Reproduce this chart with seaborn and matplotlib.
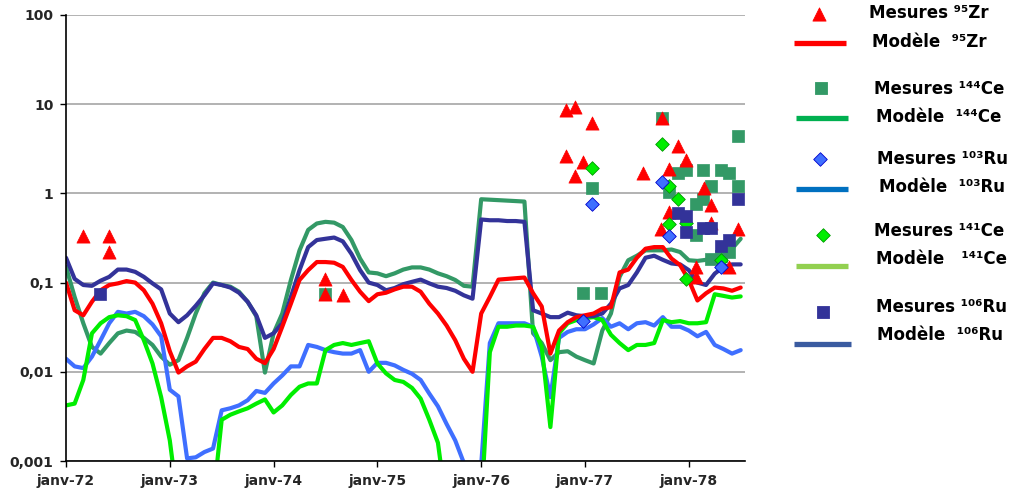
import numpy as np
import pandas as pd
import matplotlib
matplotlib.use("Agg")
import matplotlib.pyplot as plt
import seaborn as sns

sns.set_style("white")
plt.rcParams['font.family'] = ['DejaVu Sans']
plt.rcParams['font.weight'] = 'bold'

# -----------------------------------
# Données : mois depuis janv-72
# -----------------------------------

mois = np.arange(79)

modele_zr95 = [0.1, 0.049, 0.043, 0.061, 0.082, 0.094, 0.098, 0.104, 0.1, 0.082,
               0.058, 0.035, 0.017, 0.0098, 0.0115, 0.013, 0.018, 0.024, 0.024, 0.022,
               0.019, 0.018, 0.014, 0.0125, 0.018, 0.032, 0.058, 0.107, 0.138, 0.17,
               0.17, 0.167, 0.15, 0.107, 0.079, 0.062, 0.074, 0.077, 0.084, 0.09,
               0.09, 0.079, 0.058, 0.045, 0.033, 0.0226, 0.014, 0.01, 0.045, 0.069,
               0.108, 0.11, 0.112, 0.114, 0.076, 0.054, 0.016, 0.029, 0.036, 0.041,
               0.043, 0.045, 0.051, 0.053, 0.13, 0.14, 0.19, 0.24, 0.25, 0.25,
               0.186, 0.157, 0.107, 0.063, 0.076, 0.088, 0.086, 0.081, 0.088]

modele_ce144 = [0.15, 0.069, 0.035, 0.019, 0.016, 0.021, 0.027, 0.029, 0.028, 0.024,
                0.02, 0.0148, 0.012, 0.0135, 0.024, 0.045, 0.076, 0.1, 0.094, 0.09,
                0.079, 0.061, 0.042, 0.0098, 0.027, 0.045, 0.107, 0.23, 0.39, 0.46,
                0.48, 0.47, 0.42, 0.3, 0.186, 0.13, 0.127, 0.118, 0.127, 0.14,
                0.148, 0.148, 0.14, 0.127, 0.118, 0.107, 0.092, 0.09, 0.86, 0.85,
                0.84, 0.83, 0.82, 0.81, 0.027, 0.021, 0.0135, 0.0166, 0.017, 0.0148,
                0.0135, 0.0124, 0.029, 0.045, 0.116, 0.178, 0.2, 0.23, 0.23, 0.23,
                0.235, 0.22, 0.178, 0.175, 0.18, 0.195, 0.2, 0.24, 0.31]

modele_ru103 = [0.014, 0.0115, 0.011, 0.0148, 0.0226, 0.035, 0.047, 0.045, 0.047, 0.042,
                0.034, 0.025, 0.0063, 0.0053, 0.00107, 0.0011, 0.00126, 0.00138, 0.0037, 0.0039,
                0.0042, 0.0048, 0.0061, 0.0058, 0.0074, 0.0091, 0.0115, 0.0115, 0.02, 0.019,
                0.0175, 0.0166, 0.016, 0.016, 0.0175, 0.01, 0.0126, 0.0126, 0.0118, 0.0105,
                0.0095, 0.0081, 0.0057, 0.0041, 0.0026, 0.0017, 0.00095, 0.0002, 0.0009, 0.021,
                0.035, 0.035, 0.035, 0.035, 0.032, 0.0148, 0.0052, 0.024, 0.028, 0.03,
                0.03, 0.034, 0.04, 0.032, 0.035, 0.03, 0.035, 0.036, 0.033, 0.041,
                0.032, 0.032, 0.029, 0.025, 0.028, 0.02, 0.018, 0.016, 0.0175]

modele_ce141 = [0.0042, 0.0044, 0.0081, 0.027, 0.035, 0.041, 0.043, 0.042, 0.038, 0.0226,
                0.0124, 0.0052, 0.0017, 0.0003, 0.0001, 0.0001, 0.0001, 0.00035, 0.0029, 0.0033,
                0.0036, 0.0039, 0.0044, 0.0049, 0.0035, 0.0042, 0.0055, 0.0068, 0.0074, 0.0074,
                0.0175, 0.02, 0.021, 0.02, 0.021, 0.022, 0.0124, 0.0096, 0.0081, 0.0077,
                0.0066, 0.005, 0.0029, 0.0016, 0.0003, 0.0001, 0.0001, 0.0001, 0.0003, 0.0166,
                0.032, 0.032, 0.033, 0.033, 0.032, 0.019, 0.0024, 0.027, 0.035, 0.038,
                0.04, 0.041, 0.038, 0.026, 0.021, 0.0175, 0.02, 0.02, 0.021, 0.038,
                0.036, 0.037, 0.035, 0.035, 0.036, 0.074, 0.071, 0.068, 0.07]

modele_ru106 = [0.19, 0.11, 0.094, 0.092, 0.105, 0.116, 0.14, 0.14, 0.132, 0.116,
                0.098, 0.084, 0.045, 0.036, 0.043, 0.055, 0.072, 0.098, 0.094, 0.088,
                0.077, 0.061, 0.043, 0.024, 0.027, 0.035, 0.069, 0.138, 0.25, 0.3,
                0.31, 0.32, 0.29, 0.21, 0.138, 0.1, 0.094, 0.082, 0.087, 0.096,
                0.102, 0.108, 0.098, 0.09, 0.087, 0.081, 0.072, 0.066, 0.51, 0.5,
                0.5, 0.49, 0.49, 0.48, 0.049, 0.045, 0.041, 0.041, 0.046, 0.043,
                0.042, 0.042, 0.045, 0.058, 0.086, 0.094, 0.13, 0.19, 0.2, 0.18,
                0.164, 0.16, 0.138, 0.1, 0.094, 0.126, 0.15, 0.16, 0.16]

# mesures (mois, valeur)
mes_zr95_mois = [2, 5, 5, 30, 30, 32, 57.75, 58.8, 60.8, 57.75, 59.8, 58.8, 66.7,
                 68.9, 70.75, 71.7, 69.7, 73.8, 74.6, 69.7, 68.8, 74.6, 77.7, 72.8, 72.8, 76.7]
mes_zr95_val = [0.33, 0.33, 0.22, 0.11, 0.074, 0.073, 8.5, 9.4, 6.2, 2.6, 2.26, 1.57, 1.68,
                6.95, 3.4, 2.37, 1.9, 1.14, 0.74, 0.62, 0.4, 0.46, 0.4, 0.15, 0.115, 0.15]

mes_ce144_mois = [30, 59.8, 61.8, 60.8, 68.9, 77.7, 70.75, 71.7, 73.6, 75.7, 76.7, 74.6,
                  77.7, 69.7, 72.8, 73.6, 72.8, 74.6, 75.7, 76.7]
mes_ce144_val = [0.074, 0.076, 0.076, 1.14, 6.95, 4.4, 1.7, 1.83, 1.83, 1.85, 1.7, 1.21,
                 1.21, 1.05, 0.76, 0.86, 0.34, 0.186, 0.2, 0.22]

mes_ru103_mois = [59.8, 60.8, 68.9, 69.7, 75.7]
mes_ru103_val = [0.037, 0.77, 1.35, 0.33, 0.148]

mes_ce141_mois = [60.8, 68.9, 69.7, 70.75, 69.7, 71.7, 75.7, 71.7]
mes_ce141_val = [1.94, 3.55, 1.21, 0.86, 0.45, 0.46, 0.18, 0.11]

mes_ru106_mois = [3.9, 77.7, 70.75, 71.7, 71.7, 73.6, 74.6, 75.7, 76.7]
mes_ru106_val = [0.074, 0.86, 0.61, 0.56, 0.37, 0.41, 0.41, 0.26, 0.30]

annees = ['janv-72', 'janv-73', 'janv-74', 'janv-75', 'janv-76', 'janv-77', 'janv-78']
y_ticks = [0.001, 0.01, 0.1, 1, 10, 100]
y_labels = ['0,001', '0,01', '0,1', '1', '10', '100']

# -----------------------------------
# Tracé
# -----------------------------------

couleurs = {'144Ce': '#339966', '103Ru': '#3f6fff', '141Ce': '#00ee00',
            '106Ru': '#333399', '95Zr': '#ff0000'}

df = pd.concat([
    pd.DataFrame({'mois': mois, 'valeur': modele_ce144, 'serie': '144Ce'}),
    pd.DataFrame({'mois': mois, 'valeur': modele_ru103, 'serie': '103Ru'}),
    pd.DataFrame({'mois': mois, 'valeur': modele_ce141, 'serie': '141Ce'}),
    pd.DataFrame({'mois': mois, 'valeur': modele_ru106, 'serie': '106Ru'}),
    pd.DataFrame({'mois': mois, 'valeur': modele_zr95, 'serie': '95Zr'}),
])

fig = plt.figure(figsize=(10.13, 4.98), dpi=100)
ax = fig.add_axes([66/1013, 37/498, 679/1013, 446/498])
ax.set_yscale('log')

sns.lineplot(data=df, x='mois', y='valeur', hue='serie', palette=couleurs,
             hue_order=list(couleurs.keys()), estimator=None, linewidth=3.0,
             legend=False, ax=ax)

sns.scatterplot(x=mes_ce144_mois, y=mes_ce144_val, marker='s', s=70, color='#339966',
                edgecolor='#339966', linewidth=0.5, ax=ax, zorder=5)
sns.scatterplot(x=mes_zr95_mois, y=mes_zr95_val, marker='^', s=90, color='#ff0000',
                edgecolor='#ff0000', linewidth=0.5, ax=ax, zorder=6)
sns.scatterplot(x=mes_ce141_mois, y=mes_ce141_val, marker='D', s=48, color='#00ee00',
                edgecolor='#009900', linewidth=0.6, ax=ax, zorder=7)
sns.scatterplot(x=mes_ru103_mois, y=mes_ru103_val, marker='D', s=48, color='#3f6fff',
                edgecolor='#0000cc', linewidth=0.6, ax=ax, zorder=7)
sns.scatterplot(x=mes_ru106_mois, y=mes_ru106_val, marker='s', s=70, color='#333399',
                edgecolor='#333399', linewidth=0.5, ax=ax, zorder=8)

ax.set_xlim(0, 78.5)
ax.set_ylim(0.001, 100)
ax.set_xticks(np.arange(0, 73, 12))
ax.set_xticklabels(annees, fontsize=10, fontweight='bold')
ax.set_yticks(y_ticks)
ax.set_yticklabels(y_labels, fontsize=10, fontweight='bold')
ax.minorticks_off()
ax.tick_params(axis='both', which='major', direction='out', length=4, width=1,
               color='black', pad=5, left=True, bottom=True)
ax.grid(axis='y', color='#a6a6a6', linewidth=1.2)
ax.grid(axis='x', visible=False)
ax.set_xlabel('')
ax.set_ylabel('')
for cote in ['top', 'right']:
    ax.spines[cote].set_visible(False)
for cote in ['left', 'bottom']:
    ax.spines[cote].set_color('black')
    ax.spines[cote].set_linewidth(1.2)

# -----------------------------------
# Légende (à droite)
# -----------------------------------

leg = fig.add_axes([0, 0, 1, 1])
leg.set_xlim(0, 1013)
leg.set_ylim(498, 0)
leg.axis('off')
leg.patch.set_visible(False)

entrees = [
    ('m', '^', '#ff0000', '#ff0000', 90, 819, 14, 'Mesures ⁹⁵Zr', 869, 18.3),
    ('l', None, '#ff0000', None, None, (794, 846), 43, 'Modèle  ⁹⁵Zr', 872, 47.3),
    ('m', 's', '#339966', '#339966', 70, 821, 88, 'Mesures ¹⁴⁴Ce', 874, 94),
    ('l', None, '#00b050', None, None, (796, 848), 118, 'Modèle  ¹⁴⁴Ce', 876, 121.7),
    ('m', 'D', '#3f6fff', '#0000cc', 48, 820, 159, 'Mesures ¹⁰³Ru', 877, 164),
    ('l', None, '#0070c0', None, None, (796, 848), 189, 'Modèle  ¹⁰³Ru', 879, 191.7),
    ('m', 'D', '#00ee00', '#009900', 48, 823, 235, 'Mesures ¹⁴¹Ce', 874, 236),
    ('l', None, '#92d050', None, None, (796, 848), 266, 'Modèle   ¹⁴¹Ce', 876, 264),
    ('m', 's', '#333399', '#333399', 70, 823, 312, 'Mesures ¹⁰⁶Ru', 876, 311.7),
    ('l', None, '#3a5ba0', None, None, (794, 851), 344, 'Modèle  ¹⁰⁶Ru', 877, 340),
]

for kind, mk, fc, ec, s, xpos, ypos, texte, xt, yt in entrees:
    if kind == 'm':
        leg.scatter([xpos], [ypos], marker=mk, s=s, color=fc, edgecolor=ec, linewidth=0.6)
    else:
        leg.plot(list(xpos), [ypos, ypos], color=fc, linewidth=3.8, solid_capstyle='butt')
    leg.text(xt, yt, texte, fontsize=12, fontweight='bold', ha='left', va='baseline',
             color='black')

plt.savefig("out.png", dpi=100)
